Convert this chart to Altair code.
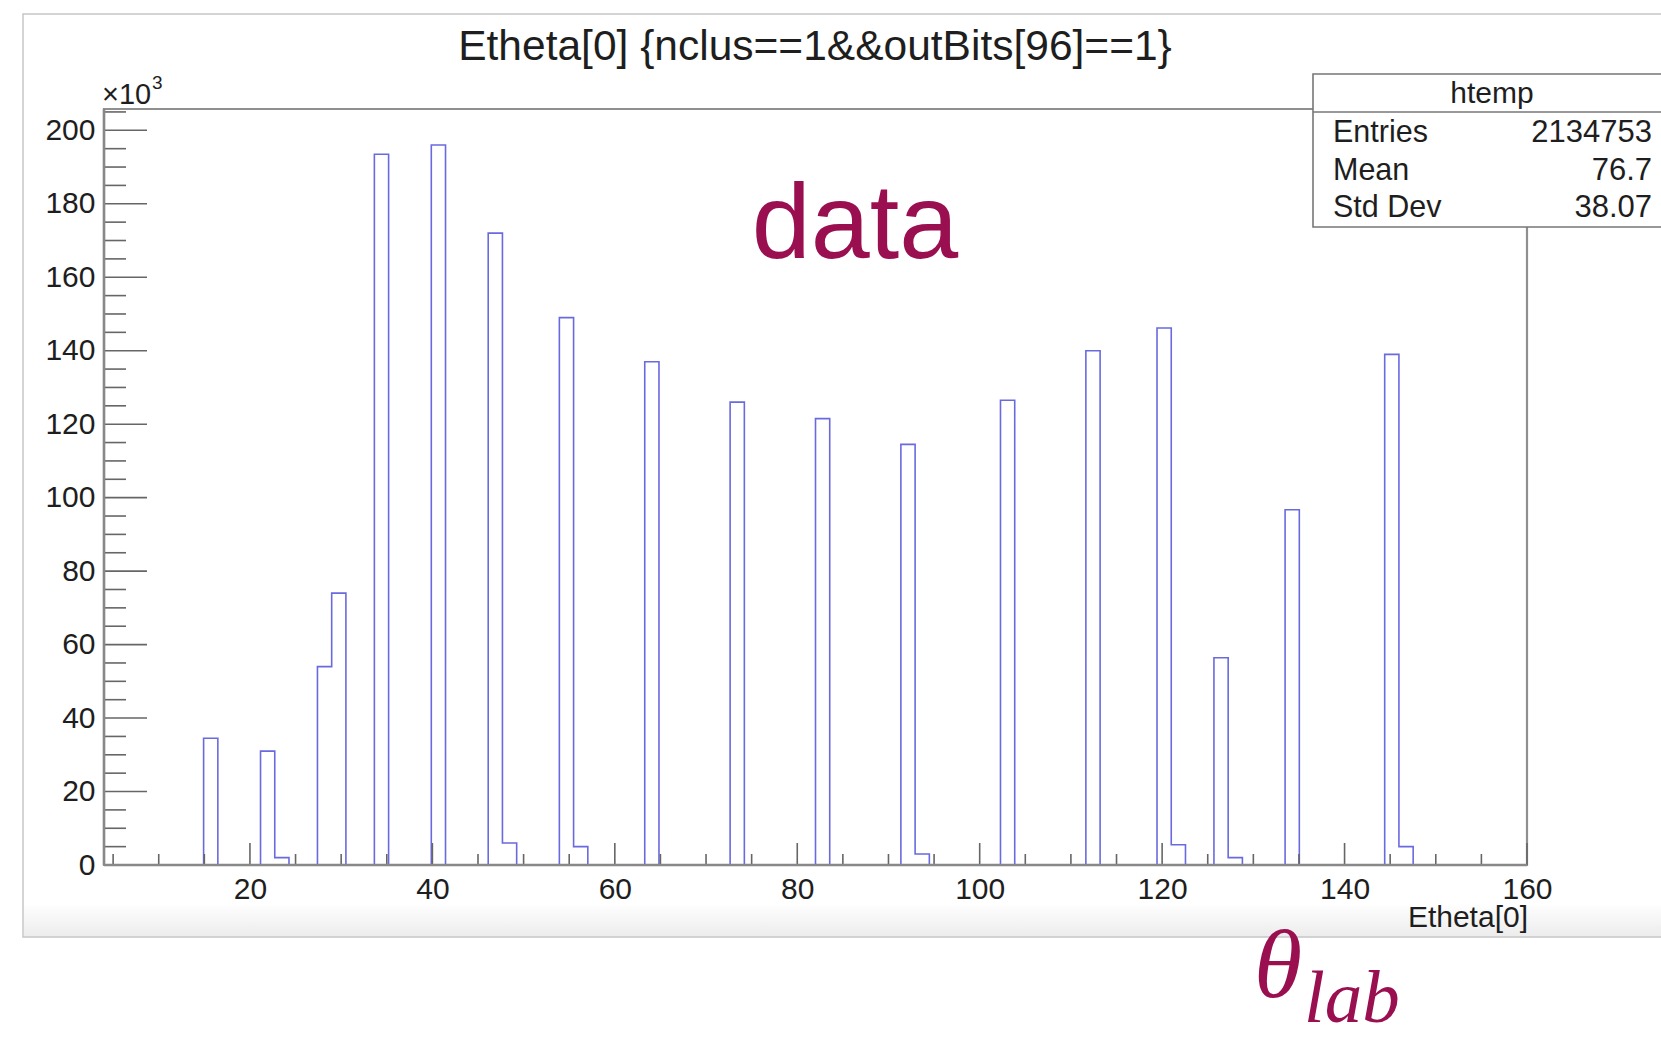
import altair as alt
import pandas as pd

# ROOT-style 1D histogram of Etheta[0], 100 bins on [4, 160]
x_min, x_max, n_bins = 4.0, 160.0, 100

# Non-empty bins: bin number (0-based) and content in thousands of entries
filled_bins = [7, 11, 12, 15, 16, 19, 23, 27, 28, 32, 33, 38, 44, 50, 56, 57,
               63, 69, 74, 75, 78, 79, 83, 90, 91]
bin_counts_k = [34.5, 31.0, 2.0, 54.0, 74.0, 193.5, 196.0, 172.0, 6.0, 149.0,
                5.0, 137.0, 126.0, 121.5, 114.5, 3.0, 126.5, 140.0, 146.2, 5.5,
                56.4, 2.0, 96.7, 139.0, 5.0]

# Statistics box
stats_name = "htemp"
stats_labels = ["Entries", "Mean", "Std Dev"]
stats_values = ["2134753", "76.7", "38.07"]

# Axis labels
x_label_values = [20, 40, 60, 80, 100, 120, 140, 160]
y_label_values_k = [0, 20, 40, 60, 80, 100, 120, 140, 160, 180, 200]

title_text = "Etheta[0] {nclus==1&&outBits[96]==1}"
x_title_text = "Etheta[0]"
accent = "#990f50"
SANS = "Liberation Sans"
SERIF = "Liberation Serif"

# ---- histogram outline (step line through bin edges) ----
bin_w = (x_max - x_min) / n_bins
contents = [0.0] * n_bins
for b, c in zip(filled_bins, bin_counts_k):
    contents[b] = c * 1000.0
edges = [x_min + i * bin_w for i in range(n_bins + 1)]
step_df = pd.DataFrame({"edge": edges, "count": contents + [0.0]})
y_max = max(contents) * 1.05

W, H = 1423, 756
xs = alt.Scale(domain=[x_min, x_max], nice=False, zero=False)
ys = alt.Scale(domain=[0, y_max], nice=False, zero=False)

axis_style = dict(
    ticks=False, grid=False, title=None, domain=False,
    labelFont=SANS, labelFontSize=30, labelColor="#1e1e1e", labelPadding=9,
    labelFlush=False, labelOverlap=False,
)
x_axis = alt.Axis(values=x_label_values, **axis_style)
y_axis = alt.Axis(values=[v * 1000 for v in y_label_values_k],
                  labelExpr="datum.value / 1000", **axis_style)

one = pd.DataFrame({"k": [0]})

# canvas (pad) border and its soft bottom shading
shade = alt.Chart(one).mark_rect(
    fill=alt.Gradient(
        gradient="linear",
        stops=[alt.GradientStop(color="#ffffff", offset=0),
               alt.GradientStop(color="#ececec", offset=1)],
        x1=0, x2=0, y1=0, y2=1,
    )
).encode(x=alt.value(-80), x2=alt.value(1620), y=alt.value(794), y2=alt.value(828))
pad = alt.Chart(one).mark_rect(
    fill="transparent", stroke="#c6c6c6", strokeWidth=1.5
).encode(x=alt.value(-81), x2=alt.value(1620), y=alt.value(-95), y2=alt.value(828))

# plot frame
frame = alt.Chart(one).mark_rect(
    fill="transparent", stroke="#8f8f8f", strokeWidth=2.2
).encode(x=alt.value(0), x2=alt.value(W), y=alt.value(0), y2=alt.value(H))

hist = alt.Chart(step_df).mark_line(
    interpolate="step-after", color="#6a6ae0", strokeWidth=1.6
).encode(
    x=alt.X("edge:Q", scale=xs, axis=x_axis),
    y=alt.Y("count:Q", scale=ys, axis=y_axis),
)

# inward ticks, ROOT style
x_major = pd.DataFrame({"t": [v for v in range(20, 161, 20)]})
x_minor = pd.DataFrame({"t": [v for v in range(5, 161, 5) if v % 20]})
y_major = pd.DataFrame({"t": [v * 1000 for v in range(0, 201, 20)]})
y_minor = pd.DataFrame({"t": [v * 1000 for v in range(5, 206, 5) if v % 20]})

tick_style = dict(color="#666666", strokeWidth=1.6)
xt_major = alt.Chart(x_major).mark_rule(**tick_style).encode(
    x=alt.X("t:Q", scale=xs, axis=x_axis), y=alt.value(H), y2=alt.value(H - 22))
xt_minor = alt.Chart(x_minor).mark_rule(**tick_style).encode(
    x=alt.X("t:Q", scale=xs, axis=x_axis), y=alt.value(H), y2=alt.value(H - 11))
yt_major = alt.Chart(y_major).mark_rule(**tick_style).encode(
    y=alt.Y("t:Q", scale=ys, axis=y_axis), x=alt.value(0), x2=alt.value(43))
yt_minor = alt.Chart(y_minor).mark_rule(**tick_style).encode(
    y=alt.Y("t:Q", scale=ys, axis=y_axis), x=alt.value(0), x2=alt.value(22))

# axis lines on top of the zero-level outline
x_line = alt.Chart(one).mark_rule(color="#888888", strokeWidth=2.5).encode(
    x=alt.value(0), x2=alt.value(W), y=alt.value(H))
y_line = alt.Chart(one).mark_rule(color="#888888", strokeWidth=2.5).encode(
    x=alt.value(0), y=alt.value(0), y2=alt.value(H))


def label(text, x, y, size, align="left", color="#1e1e1e", font=SANS, style="normal"):
    return alt.Chart(one).mark_text(
        text=text, align=align, baseline="alphabetic", font=font,
        fontSize=size, fontStyle=style, color=color,
    ).encode(x=alt.value(x), y=alt.value(y))


title = label(title_text, 711, -49, 42.5, align="center")
exp_main = label("\u00d710", -2, -5, 29)
exp_sup = label("3", 48, -20, 19)
x_title = label(x_title_text, 1424, 818, 30, align="right")

# statistics box
box = alt.Chart(one).mark_rect(fill="white", stroke="#777777", strokeWidth=1.6).encode(
    x=alt.value(1209), x2=alt.value(1620), y=alt.value(-35), y2=alt.value(118))
sep = alt.Chart(one).mark_rule(color="#777777", strokeWidth=1.6).encode(
    x=alt.value(1209), x2=alt.value(1620), y=alt.value(3))
stats_layers = [label(stats_name, 1388, -6, 30, align="center")]
for i, (nm, val) in enumerate(zip(stats_labels, stats_values)):
    yy = 33 + i * 37.5
    stats_layers.append(label(nm, 1229, yy, 30.5))
    stats_layers.append(label(val, 1548, yy, 31, align="right"))

# annotations
data_tag = label("data", 751, 149, 106, align="center", color=accent)
theta = label("\u03b8", 1150, 888, 98, color=accent, font=SERIF, style="italic")
theta_sub = label("lab", 1200, 913, 75, color=accent, font=SERIF, style="italic")

chart = alt.layer(
    shade, pad, frame, hist, xt_minor, xt_major, yt_minor, yt_major, x_line, y_line,
    title, exp_main, exp_sup, x_title, box, sep, *stats_layers,
    data_tag, theta, theta_sub,
).properties(
    width=W, height=H,
    autosize=alt.AutoSizeParams(type="none"),
    padding={"left": 104, "top": 109, "right": 134, "bottom": 173},
).configure(background="white").configure_view(strokeWidth=0)

chart.save("out.html", embed_options={"renderer": "svg", "actions": False})
